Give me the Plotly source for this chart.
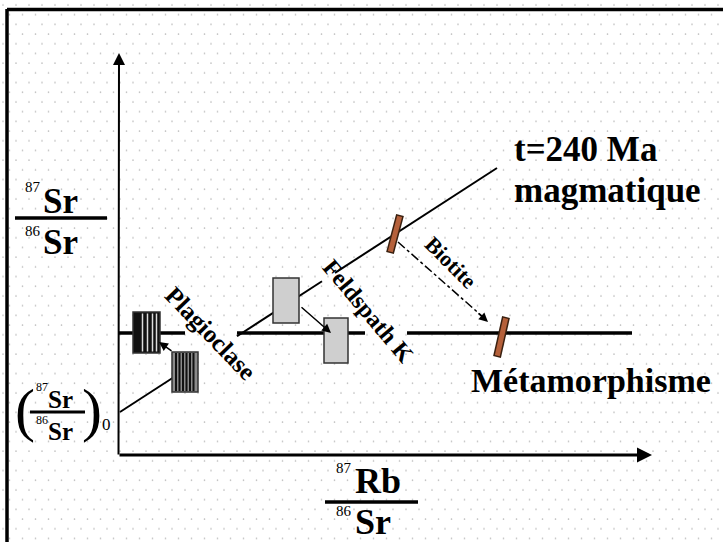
import base64
import plotly.graph_objects as go

# ---------------- data (diagram units: 1 unit = 1 px of the reference, origin at axes corner)
iso_mag_x = [2, 379]          # magmatic isochron (t = 240 Ma)
iso_mag_y = [43, 287]
iso_meta_x = [0, 514]         # metamorphic isochron (re-equilibrated)
iso_meta_y = [122, 122]

minerals = ["Plagioclase (méta)", "Plagioclase (magm)", "Feldspath K (méta)", "Feldspath K (magm)"]
mineral_x = [28.5, 67, 218, 168]
mineral_y = [122.5, 83, 114.5, 154.5]

biotite_x = [277, 383.5]      # magmatic, metamorphic
biotite_y = [221, 118]

# ---------------- helpers
W, H = 723, 542
OX, OY = 118, 455


def P(px, py):
    return px - OX, OY - py


def split_line(xs, ys, gaps):
    x0, x1 = xs
    y0, y1 = ys
    f = lambda x: y0 + (y1 - y0) * (x - x0) / (x1 - x0)
    pts_x, pts_y = [], []
    cur = x0
    for g0, g1 in gaps:
        pts_x += [cur, g0, None]
        pts_y += [f(cur), f(g0), None]
        cur = g1
    pts_x += [cur, x1]
    pts_y += [f(cur), f(x1)]
    return pts_x, pts_y


fig = go.Figure()

# isochrons
mx, my = split_line(iso_mag_x, iso_mag_y, [(80, 119), (204, 217)])
fig.add_trace(go.Scatter(x=mx, y=my, mode="lines", line=dict(color="black", width=2),
                         hoverinfo="skip", showlegend=False))
hx, hy = split_line(iso_meta_x, iso_meta_y, [(67, 119), (247, 289)])
fig.add_trace(go.Scatter(x=hx, y=hy, mode="lines", line=dict(color="black", width=3.5),
                         hoverinfo="skip", showlegend=False))

# biotite dashed path
bx0, by0 = biotite_x[0] + 3, biotite_y[0] - 8
bx1, by1 = biotite_x[1] - 14, biotite_y[1] + 16
fig.add_trace(go.Scatter(x=[bx0, bx1], y=[by0, by1], mode="lines",
                         line=dict(color="black", width=1.5, dash="dashdot"),
                         hoverinfo="skip", showlegend=False))

# biotite bars
for bx, by, dx, dy in [(biotite_x[0], biotite_y[0], 5, 19), (biotite_x[1], biotite_y[1], 4.5, 20)]:
    fig.add_trace(go.Scatter(x=[bx + dx, bx - dx], y=[by + dy, by - dy], mode="lines",
                             line=dict(color="#3a2010", width=8), hoverinfo="skip", showlegend=False))
    fig.add_trace(go.Scatter(x=[bx + dx * 0.93, bx - dx * 0.93], y=[by + dy * 0.93, by - dy * 0.93],
                             mode="lines", line=dict(color="#b5603a", width=5),
                             hoverinfo="skip", showlegend=False))

shapes = []
# mineral boxes
box_size = [(27, 41), (26, 40), (24, 45), (26, 45)]
box_fill = ["#111111", "#8a8a8a", "#cfcfcf", "#cfcfcf"]
for (cx, cy), (bw, bh), fc in zip(zip(mineral_x, mineral_y), box_size, box_fill):
    shapes.append(dict(type="rect", xref="x", yref="y", x0=cx - bw / 2, x1=cx + bw / 2,
                       y0=cy - bh / 2, y1=cy + bh / 2, fillcolor=fc,
                       line=dict(color="#333333", width=1.5), layer="above"))
# stripes plagioclase
cx, cy = mineral_x[0], mineral_y[0]
for off in [-4, 1, 6, 10]:
    shapes.append(dict(type="line", xref="x", yref="y", x0=cx + off, x1=cx + off,
                       y0=cy - 19, y1=cy + 19, line=dict(color="#dddddd", width=1.5), layer="above"))
cx, cy = mineral_x[1], mineral_y[1]
for off in [-9, -5.5, -2, 1.5, 5, 8.5]:
    shapes.append(dict(type="line", xref="x", yref="y", x0=cx + off, x1=cx + off,
                       y0=cy - 19, y1=cy + 19, line=dict(color="#111111", width=2), layer="above"))

# fraction bars
for (a, y, w) in [((15, 107), 218, 3.5), ((30, 85), 412, 3), ((325, 418), 502, 3.5)]:
    x0, y0 = P(a[0], y)
    x1, _ = P(a[1], y)
    shapes.append(dict(type="line", xref="x", yref="y", x0=x0, x1=x1, y0=y0, y1=y0,
                       line=dict(color="black", width=w)))

# frame
shapes.append(dict(type="line", xref="paper", yref="paper", x0=7 / W, x1=7 / W, y0=0, y1=1 - 9 / H,
                   line=dict(color="black", width=3.5)))
shapes.append(dict(type="line", xref="paper", yref="paper", x0=7 / W, x1=1, y0=1 - 9.5 / H, y1=1 - 9.5 / H,
                   line=dict(color="black", width=3.5)))

ann = []
SERIF = "Liberation Serif"


def txt(px, py, s, size, bold=True, angle=0, xanchor="center", yanchor="middle", color="black"):
    x, y = P(px, py)
    ann.append(dict(x=x, y=y, xref="x", yref="y", text=f"<b>{s}</b>" if bold else s, showarrow=False,
                    font=dict(family=SERIF, size=size, color=color), textangle=angle,
                    xanchor=xanchor, yanchor=yanchor))


def arrow(p_from, p_to, width, head=2, size=1.0):
    x0, y0 = P(*p_from)
    x1, y1 = P(*p_to)
    ann.append(dict(x=x1, y=y1, ax=x0, ay=y0, xref="x", yref="y", axref="x", ayref="y",
                    showarrow=True, arrowhead=head, arrowsize=size, arrowwidth=width,
                    arrowcolor="black", text=""))


# axes
arrow((118, 455), (652, 455), 3, size=1.0)
arrow((118.5, 456), (119, 53), 2, size=1.2)
# box arrows
arrow((300, 306), (331, 333), 1.5, size=1.2)
arrow((173, 352), (159, 342), 1.5, size=1.2)
# biotite arrow head
arrow((477, 312), (488, 322), 1.5, size=1.2)

# y label
txt(33, 187, "87", 15, bold=False)
txt(60, 201, "Sr", 35)
txt(33, 231, "86", 15, bold=False)
txt(60, 242, "Sr", 35)
# initial ratio
txt(25, 410, "(", 60, bold=False)
txt(80, 410, ")<span style='font-size:17px'>0</span>", 60, bold=False, xanchor="left")
txt(42, 387, "87", 12, bold=False)
txt(60, 399, "Sr", 25)
txt(42, 420, "86", 12, bold=False)
txt(60, 431, "Sr", 25)
# x label
txt(344, 468, "87", 15, bold=False)
txt(378, 481, "Rb", 36)
txt(344, 511, "86", 15, bold=False)
txt(373, 522, "Sr", 36)
# titles
txt(512, 149, "t=240 Ma", 35, xanchor="left")
txt(512, 190, "magmatique", 35, xanchor="left")
txt(469, 380, "Métamorphisme", 34, xanchor="left")
# rotated mineral labels
txt(211, 333, "Plagioclase", 25, angle=46)
txt(368, 311, "Feldspath K", 24, angle=50)
txt(451, 262, "Biotite", 22, angle=45)

# dotted background texture
svg = ("<svg xmlns='http://www.w3.org/2000/svg' width='723' height='542'><defs>"
       "<pattern id='p' width='13' height='19.4' patternUnits='userSpaceOnUse'>"
       "<circle cx='3' cy='5' r='0.8' fill='#bdbdbd'/><circle cx='9.5' cy='14.7' r='0.8' fill='#bdbdbd'/>"
       "</pattern></defs><rect width='723' height='542' fill='url(#p)'/></svg>")
src = "data:image/svg+xml;base64," + base64.b64encode(svg.encode()).decode()

fig.update_layout(
    width=W, height=H, margin=dict(l=0, r=0, t=0, b=0),
    paper_bgcolor="white", plot_bgcolor="rgba(0,0,0,0)",
    xaxis=dict(range=[-OX, W - OX], visible=False, fixedrange=True),
    yaxis=dict(range=[OY - H, OY], visible=False, fixedrange=True),
    shapes=shapes, annotations=ann, showlegend=False,
    images=[dict(source=src, xref="paper", yref="paper", x=0, y=1, sizex=1, sizey=1,
                 sizing="stretch", layer="below")],
)

fig.write_html("out.html", config={"displayModeBar": False},
               post_script="document.body.style.margin='0';document.body.style.overflow='hidden';")
